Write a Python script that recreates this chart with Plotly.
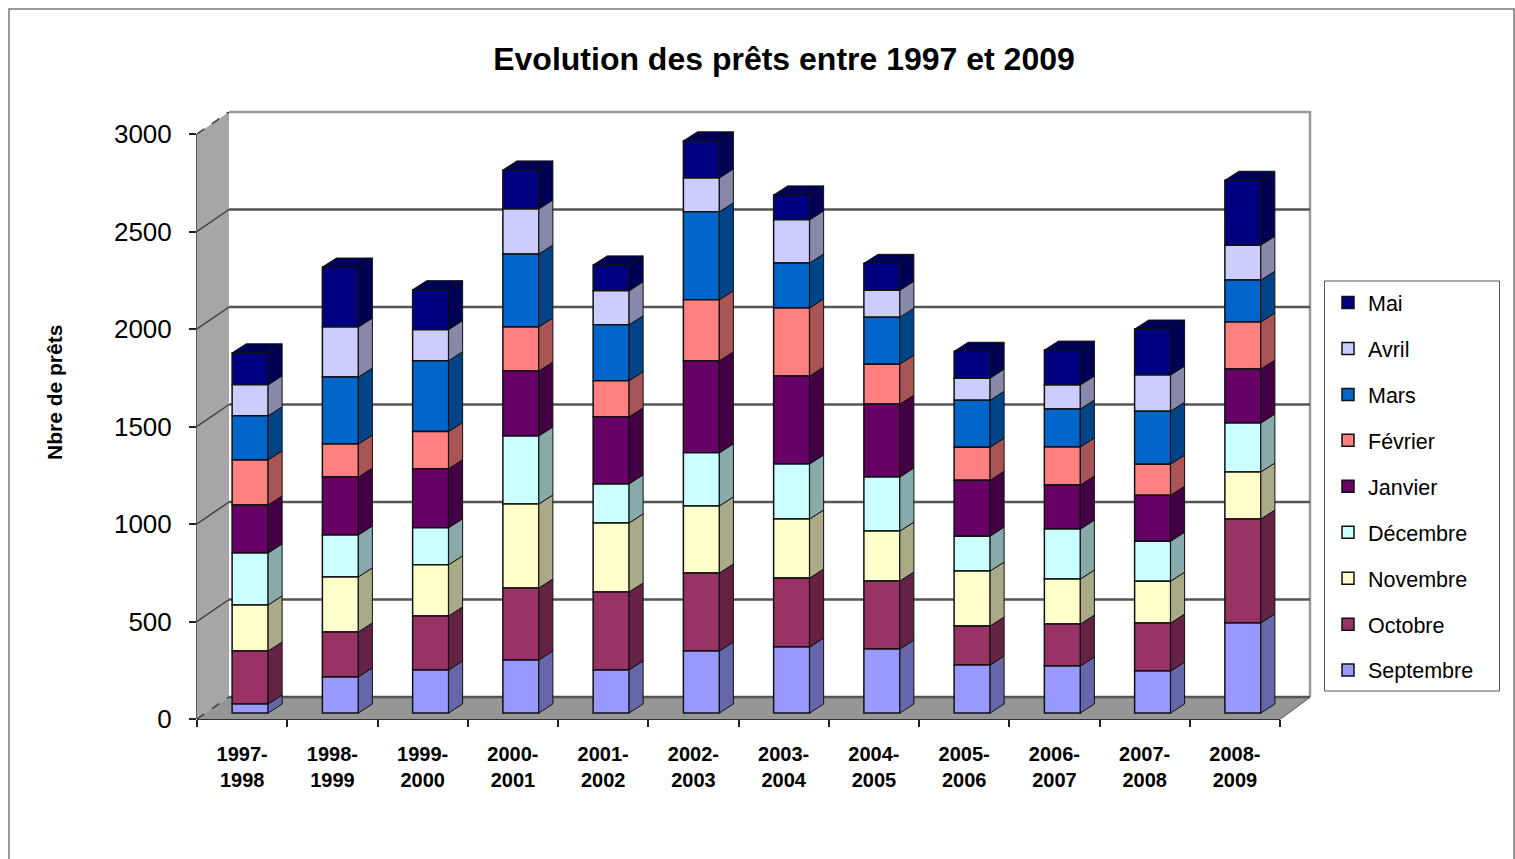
import plotly.graph_objects as go

periods = ["1997-<br>1998", "1998-<br>1999", "1999-<br>2000", "2000-<br>2001", "2001-<br>2002", "2002-<br>2003",
           "2003-<br>2004", "2004-<br>2005", "2005-<br>2006", "2006-<br>2007", "2007-<br>2008", "2008-<br>2009"]

septembre = [46, 185, 221, 272, 221, 318, 338, 328, 246, 241, 215, 462]
octobre = [272, 231, 277, 369, 400, 400, 354, 349, 200, 215, 246, 533]
novembre = [236, 282, 262, 431, 354, 344, 303, 256, 282, 231, 215, 241]
decembre = [267, 215, 190, 349, 200, 272, 282, 277, 179, 256, 205, 251]
janvier = [246, 297, 303, 333, 344, 472, 451, 374, 287, 226, 236, 277]
fevrier = [231, 169, 190, 226, 185, 313, 349, 205, 169, 195, 159, 241]
mars = [226, 344, 364, 374, 287, 451, 231, 241, 241, 195, 272, 215]
avril = [159, 256, 159, 231, 174, 174, 221, 138, 113, 123, 185, 179]
mai = [164, 308, 205, 200, 133, 190, 128, 138, 138, 179, 236, 333]

series = [("Septembre", septembre, "#9999FF", "#6666AA"),
          ("Octobre", octobre, "#993366", "#662244"),
          ("Novembre", novembre, "#FFFFCC", "#AAAA88"),
          ("Décembre", decembre, "#CCFFFF", "#88AAAA"),
          ("Janvier", janvier, "#660066", "#440044"),
          ("Février", fevrier, "#FF8080", "#AA5555"),
          ("Mars", mars, "#0066CC", "#004488"),
          ("Avril", avril, "#CCCCFF", "#8888AA"),
          ("Mai", mai, "#000080", "#000055")]

# page geometry of the reference (pixels)
W, H = 1515, 859
LEFT, RIGHT, TOP, BOTTOM = 197, 1310, 112, 719
PX_X = 90.25    # pixels per category
PX_Y = 0.195    # pixels per loan

# 3D look: depth of the box and of the bars, in axis units
box_dx, box_dy = 32 / PX_X, 22 / PX_Y
right_dx = 30 / PX_X
bar_x, bar_y = 8 / PX_X, 6 / PX_Y
side_dx, side_dy = 14 / PX_X, 9 / PX_Y
bar_w = 36 / PX_X


def paper_x(px):
    return (px - LEFT) / (RIGHT - LEFT)


def paper_y(py):
    return (BOTTOM - py) / (BOTTOM - TOP)


def path(points, close=False):
    return "M" + " L".join(f"{x},{y}" for x, y in points) + (" Z" if close else "")


def paper_line(points, color, width):
    # paper shapes are not clipped at the plot edge, the box edges sit right on it
    return dict(type="path", xref="paper", yref="paper", layer="below",
                path=path([(paper_x(a), paper_y(b)) for a, b in points]),
                line=dict(color=color, width=width))


fig = go.Figure()

# box behind the bars
x0, x1 = -0.5, 11.5
x_end = x1 + right_dx
wall_shapes = [
    dict(type="path", path=path([(x0, 0), (x0 + box_dx, box_dy), (x0 + box_dx, 3000 + box_dy), (x0, 3000)], True),
         fillcolor="#A6A6A6", line_width=0, layer="below"),
    dict(type="path", path=path([(x0, 0), (x1, 0), (x_end, box_dy), (x0 + box_dx, box_dy)], True),
         fillcolor="#969696", line_width=0, layer="below"),
]
for level in range(0, 3000, 500):
    wall_shapes.append(dict(type="path", path=path([(x0 + box_dx, level + box_dy), (x_end, level + box_dy)]),
                            line=dict(color="#555555", width=2.5), layer="below"))
for level in range(0, 3500, 500):
    dashed = level in (0, 3000)
    wall_shapes.append(dict(type="path", path=path([(x0, level), (x0 + box_dx, level + box_dy)]),
                            line=dict(color="#404040", width=1.5, dash="dash" if dashed else "solid"), layer="below"))

# box edges and axis lines
wall_shapes.append(paper_line([(229, 112), (1310, 112), (1310, 697)], "#9A9A9A", 2.5))
wall_shapes.append(paper_line([(197, 134), (197, 719)], "#222222", 1.5))
wall_shapes.append(paper_line([(197, 719), (1280, 719)], "#333333", 2))
wall_shapes.append(paper_line([(1280, 719), (1310, 697)], "#444444", 1.5))

# chart frame and legend box
wall_shapes.append(paper_line([(9, H), (9, 9), (1514, 9), (1514, H)], "#777777", 1.5))
wall_shapes.append(dict(type="rect", xref="paper", yref="paper",
                        x0=paper_x(1324.5), x1=paper_x(1499.5), y0=paper_y(691), y1=paper_y(281),
                        line=dict(color="#555555", width=1), fillcolor="white", layer="below"))

# cumulative bottoms of each month, from the monthly values
stacks = []
stack = [bar_y] * len(periods)
for name, values, color, dark in series:
    stacks.append(list(stack))
    stack = [s + v for s, v in zip(stack, values)]

xs = [i + bar_x for i in range(len(periods))]

# added last month first so the legend reads Mai to Septembre
for k in range(len(series) - 1, -1, -1):
    name, values, color, dark = series[k]
    fig.add_trace(go.Bar(x=xs, y=values, base=stacks[k], width=bar_w, name=name, legendgroup=name,
                         marker=dict(color=color, line=dict(color="#111111", width=1.5))))

# side faces, and the top face of the last month
for k, (name, values, color, dark) in enumerate(series):
    sx, sy, tx, ty = [], [], [], []
    for i, v in enumerate(values):
        r = xs[i] + bar_w / 2
        b, t = stacks[k][i], stacks[k][i] + v
        sx += [r, r + side_dx, r + side_dx, r, r, None]
        sy += [b, b + side_dy, t + side_dy, t, b, None]
        tx += [r - bar_w, r, r + side_dx, r - bar_w + side_dx, r - bar_w, None]
        ty += [t, t, t + side_dy, t + side_dy, t, None]
    fig.add_trace(go.Scatter(x=sx, y=sy, mode="lines", fill="toself", fillcolor=dark,
                             line=dict(color="#111111", width=1), showlegend=False, hoverinfo="skip"))
    if k == len(series) - 1:
        fig.add_trace(go.Scatter(x=tx, y=ty, mode="lines", fill="toself", fillcolor=dark,
                                 line=dict(color="#111111", width=1), showlegend=False, hoverinfo="skip"))

font_name = "Liberation Sans"
fig.update_layout(
    width=W, height=H, autosize=False,
    margin=dict(l=LEFT, r=W - RIGHT, t=TOP, b=H - BOTTOM, pad=0),
    paper_bgcolor="white", plot_bgcolor="white",
    barmode="overlay",
    font=dict(family=font_name, color="black"),
    title=dict(text="<b>Evolution des prêts entre 1997 et 2009</b>", x=784 / W, y=1 - 59 / H,
               xanchor="center", yanchor="middle", font=dict(size=32, color="black")),
    xaxis=dict(range=[x0, x_end], tickmode="array", tickvals=list(range(12)), ticktext=[f"<b>{p}</b>" for p in periods],
               ticks="", showgrid=False, zeroline=False, showline=False, tickangle=0,
               tickfont=dict(size=20), ticklabelstandoff=21,
               minor=dict(tickmode="array", tickvals=[i - 0.5 for i in range(13)], ticks="outside",
                          ticklen=7, tickwidth=1.5, tickcolor="#222222", showgrid=False)),
    yaxis=dict(range=[0, (BOTTOM - TOP) / PX_Y], tickmode="array", tickvals=list(range(0, 3500, 500)),
               ticks="outside", ticklen=7, tickwidth=1.5, tickcolor="#222222", showgrid=False, zeroline=False,
               showline=False, tickfont=dict(size=26), ticklabelstandoff=12),
    legend=dict(x=paper_x(1328), y=paper_y(282), xanchor="left", yanchor="top", traceorder="grouped",
                tracegroupgap=15, bgcolor="rgba(0,0,0,0)", borderwidth=0, font=dict(size=21.5), itemclick=False),
    annotations=[dict(text="<b>Nbre de prêts</b>", xref="paper", yref="paper", x=paper_x(54), y=paper_y(393),
                      textangle=-90, showarrow=False, font=dict(size=21), xanchor="center", yanchor="middle")],
    shapes=wall_shapes,
)

# the reference has no page margin around the chart
fig.write_html("out.html", config={"displayModeBar": False}, post_script="document.body.style.margin='0';")
